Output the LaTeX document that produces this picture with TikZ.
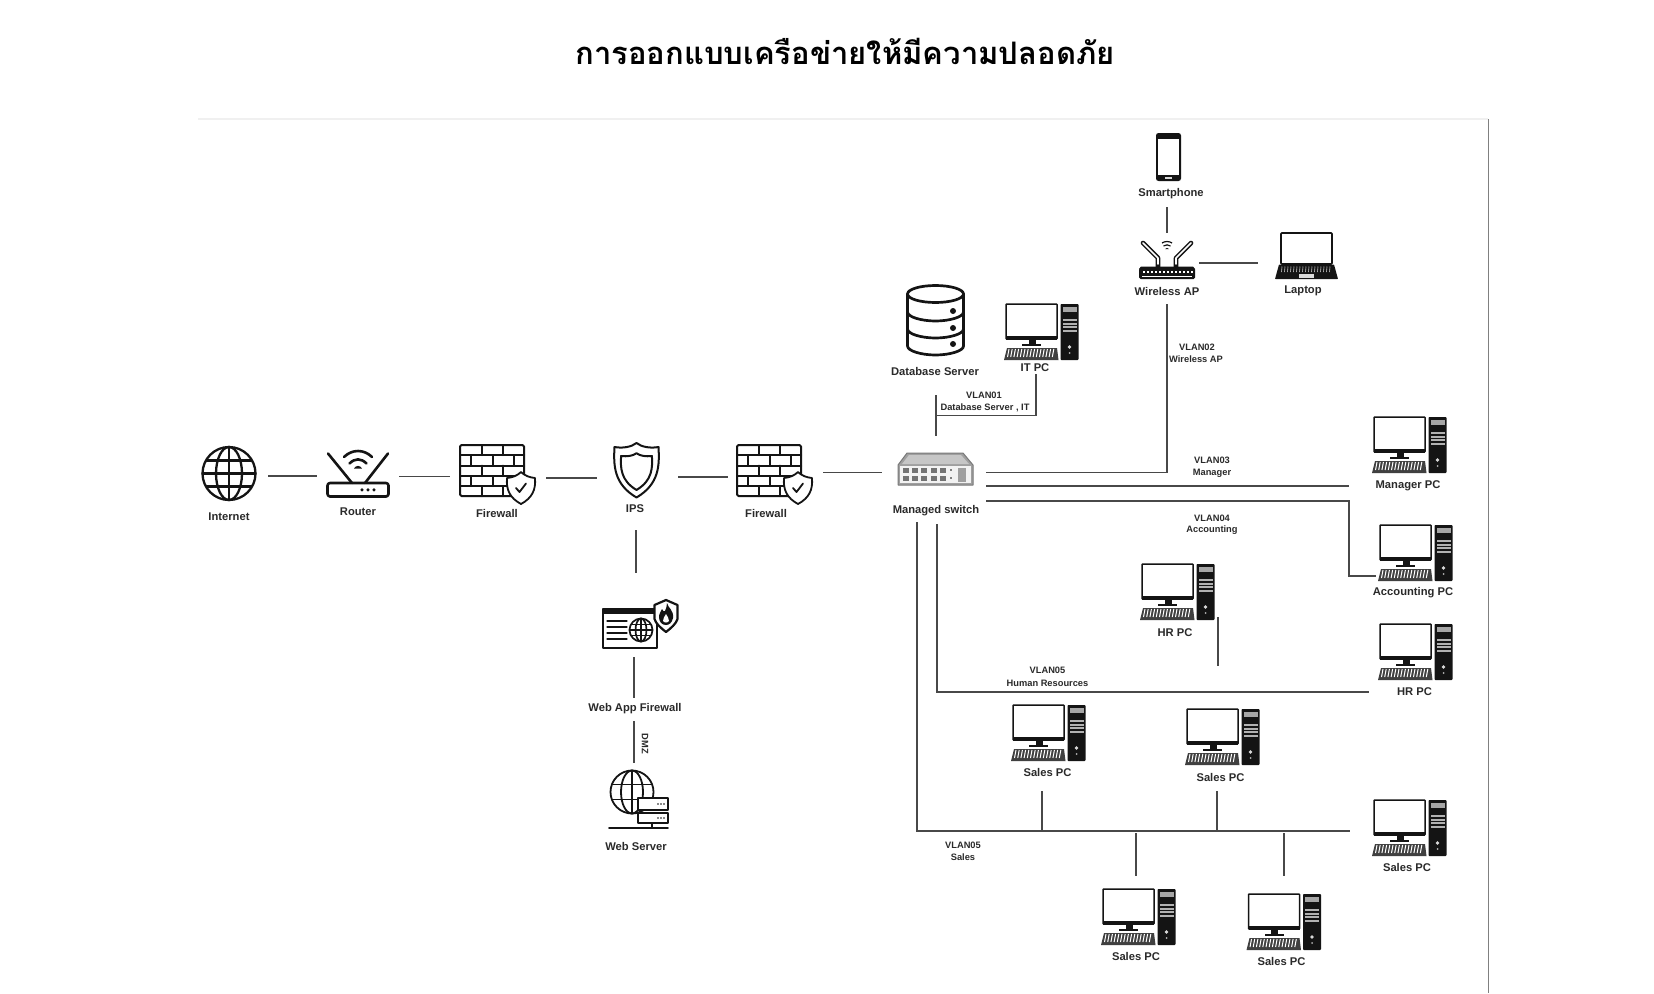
\documentclass[tikz,border=0pt]{standalone}
\usepackage{fontspec}
\setmainfont{Liberation Sans}
\newfontfamily\thaifont[Script=Thai]{Loma}
\usetikzlibrary{calc}
\definecolor{ink}{HTML}{141414}
\definecolor{wire}{HTML}{484848}
\definecolor{labelc}{HTML}{2A2A2A}
\tikzset{
  lbl/.style={font=\bfseries\fontsize{11.2}{13}\selectfont,text=labelc,inner sep=0pt},
  vlbl/.style={font=\bfseries\fontsize{9.3}{10}\selectfont,text=labelc,inner sep=0pt},
  wirel/.style={draw=wire,line width=1.15pt},
  ic/.style={draw=ink,line width=2pt,line join=round,line cap=round},
  ict/.style={draw=ink,line width=1.2pt,line join=round,line cap=round},
  pcicon/.pic={
    % monitor
    \draw[ink,line width=1.5pt,rounded corners=.6pt] (0,0) rectangle (51,35);
    \fill[ink] (0,31.5) rectangle (51,35.5);
    \fill[ink] (22.5,35) rectangle (29.5,40);
    \fill[ink] (16,39.5) rectangle (35,42);
    % keyboard
    \fill[black!75] (1,44) -- (51,44) -- (52.5,56) -- (-2,56) -- cycle;
    \foreach \k in {0,...,14}{\draw[white,line width=1pt] ({3+\k*3.2},45) -- ({1.5+\k*3.2},53);}
    % tower
    \fill[ink,rounded corners=.8pt] (54.5,0) rectangle (72.5,56);
    \fill[gray!70] (56.5,3) rectangle (70.5,8);
    \fill[gray!60] (56.5,15) rectangle (70.5,17);
    \fill[gray!60] (56.5,18.5) rectangle (70.5,20.5);
    \fill[gray!60] (56.5,22) rectangle (70.5,24);
    \fill[gray!60] (56.5,25.5) rectangle (70.5,27.5);
    \fill[white!85!black] (63.5,43) circle (1.8);
    \fill[white!70!black] (63.5,49) circle (1);
  },
  globeicon/.pic={
    \draw[ic,line width=2.3pt] (0,0) circle (26.5);
    \draw[ic,line width=2.3pt] (0,0) ellipse (13 and 26.5);
    \draw[ic,line width=2.3pt] (0,-26.5) -- (0,26.5);
    \draw[ic,line width=2.3pt] (-26.5,0) -- (26.5,0);
    \draw[ic,line width=2.3pt] (-22.5,-13) -- (22.5,-13);
    \draw[ic,line width=2.3pt] (-22.5,13) -- (22.5,13);
  },
  routericon/.pic={
    \draw[ic,line width=2.6pt,rounded corners=2.5pt] (-30.5,7) rectangle (30.5,20.5);
    \draw[ic,line width=2.6pt] (-6,7) -- (-30,-22.5);
    \draw[ic,line width=2.6pt] (7,7) -- (30,-22.5);
    \draw[ic,line width=2.6pt] (-14,-19) .. controls (-6,-27) and (6,-27) .. (14,-19);
    \draw[ic,line width=2.6pt] (-8.5,-12.5) .. controls (-3,-18) and (3,-18) .. (8.5,-12.5);
    \fill[ink] (-4,-7.5) .. controls (-2,-11) and (2,-11) .. (4,-7.5) -- cycle;
    \foreach \d in {4,10,16}{\fill[ink] (\d,13.8) circle (1.7);}
  },
  shieldsmall/.pic={
    \draw[ic,fill=white,line width=1.8pt] (0,-16) .. controls (4,-12) and (9,-10.5) .. (14,-10)
      .. controls (15,2) and (11,10) .. (0,16)
      .. controls (-11,10) and (-15,2) .. (-14,-10)
      .. controls (-9,-10.5) and (-4,-12) .. (0,-16) -- cycle;
    \draw[ic,line width=1.8pt] (-5,0) -- (-1.5,4) -- (5,-4.5);
  },
  wallicon/.pic={
    \draw[ic,rounded corners=1.5pt] (0,0) rectangle (64,51);
    \foreach \y in {10,20.5,31,41}{\draw[ic] (0,\y) -- (64,\y);}
    \foreach \x in {22,43}{
      \draw[ic] (\x,0) -- (\x,10);
      \draw[ic] (\x,20.5) -- (\x,31);
      \draw[ic] (\x,41) -- (\x,51);
    }
    \foreach \x in {11,33,54}{
      \draw[ic] (\x,10) -- (\x,20.5);
      \draw[ic] (\x,31) -- (\x,41);
    }
    \pic at (61,43) {shieldsmall};
  },
  ipsicon/.pic={
    \draw[ic] (0,-27) .. controls (5,-23) and (14,-21.5) .. (22,-23)
      .. controls (23,-5) and (23,14) .. (0,27.5)
      .. controls (-23,14) and (-23,-5) .. (-22,-23)
      .. controls (-14,-21.5) and (-5,-23) .. (0,-27) -- cycle;
    \begin{scope}[scale=.7,yshift=-1pt]
    \draw[ic] (0,-25) .. controls (5,-21) and (14,-20) .. (22,-21)
      .. controls (23,-5) and (23,14) .. (0,27.5)
      .. controls (-23,14) and (-23,-5) .. (-22,-21)
      .. controls (-14,-20) and (-5,-21) .. (0,-25) -- cycle;
    \end{scope}
  },
  switchicon/.pic={
    \fill[gray!75,draw=gray!95!black,line width=1pt,line join=round] (9,0) -- (65,0) -- (75,12) -- (75,32) -- (0,32) -- (0,12) -- cycle;
    \fill[gray!45] (11,2) -- (63,2) -- (71,11) -- (4,11) -- cycle;
    \fill[white!90!gray] (2,13) rectangle (73,30);
    \foreach \x in {0,1,2,3,4}{
      \fill[gray!90!black] ({5+\x*9.2},15) rectangle ({11+\x*9.2},20);
      \fill[gray!90!black] ({5+\x*9.2},23) rectangle ({11+\x*9.2},28);
    }
    \fill[gray!75] (60,14.5) rectangle (68,29);
    \fill[gray] (52,16) rectangle (53.5,18);
    \fill[gray] (52,24) rectangle (53.5,26);
  },
  apicon/.pic={
    \fill[ink,rounded corners=1.5pt] (-28,5) rectangle (28,16);
    \fill[ink] (-26,3.5) -- (26,3.5) -- (28,6) -- (-28,6) -- cycle;
    \foreach \x in {-24,-20,...,24}{\fill[white] (\x,8) rectangle ({\x+1.8},10);}
    \fill[white] (-25,12.5) rectangle (25,13.5);
    \foreach \s in {-1,1}{
      \draw[ink,line width=4.6pt,line cap=round,line join=round] ({\s*9},4) -- ({\s*9},-5) -- ({\s*24},-20);
      \draw[white,line width=1.6pt,line cap=round,line join=round] ({\s*9},1) -- ({\s*9},-5) -- ({\s*24},-20);
    }
    \draw[ink,line width=1.2pt] (-5,-20) .. controls (-2,-22) and (2,-22) .. (5,-20);
    \draw[ink,line width=1.2pt] (-3.5,-17) .. controls (-1.5,-18.5) and (1.5,-18.5) .. (3.5,-17);
    \fill[ink] (-1.8,-14) .. controls (-1,-15.5) and (1,-15.5) .. (1.8,-14) -- cycle;
  },
  phoneicon/.pic={
    \fill[ink,rounded corners=2.5pt] (0,0) rectangle (25,48);
    \fill[white] (1.6,5.5) rectangle (23.4,41.5);
    \fill[white!70!gray] (9,44) rectangle (16,45.5);
  },
  laptopicon/.pic={
    \draw[ic,line width=1.6pt,rounded corners=.8pt] (0,0) rectangle (51,31);
    \fill[ink,rounded corners=.6pt] (-2,31.5) -- (53,31.5) -- (57,46) -- (-6,46) -- cycle;
    \foreach \k in {0,...,16}{\draw[white!80!black,line width=.6pt] ({1+\k*3},33.5) -- ({.5+\k*3},39);}
    \fill[white!85!black] (18,41) rectangle (33,44.5);
  },
  dbicon/.pic={
    \begin{scope}[ic,line width=2.7pt]
    \draw (-28,-26) -- (-28,26) .. controls (-28,31) and (-14,35) .. (0,35)
      .. controls (14,35) and (28,31) .. (28,26) -- (28,-26);
    \draw (0,-26) ellipse (28 and 8.5);
    \draw (-28,-8) .. controls (-28,-3) and (-14,1) .. (0,1) .. controls (14,1) and (28,-3) .. (28,-8);
    \draw (-28,9) .. controls (-28,14) and (-14,18) .. (0,18) .. controls (14,18) and (28,14) .. (28,9);
    \end{scope}
    \foreach \y in {-9,8,24}{\fill[ink] (17.5,\y) circle (3);}
  },
  wafglobe/.pic={
    \draw[ict,line width=1.7pt] (0,0) circle (11.5);
    \draw[ict,line width=1.7pt] (0,0) ellipse (5.5 and 11.5);
    \draw[ict,line width=1.7pt] (0,-11.5) -- (0,11.5);
    \draw[ict,line width=1.7pt] (-11.5,0) -- (11.5,0);
    \draw[ict,line width=1.7pt] (-10,-5.5) -- (10,-5.5);
    \draw[ict,line width=1.7pt] (-10,5.5) -- (10,5.5);
  },
  wafshield/.pic={
    \draw[ic,fill=white,line width=2.2pt] (0,-16) -- (11.5,-11) -- (11.5,3) .. controls (10,8) and (5,12) .. (0,16)
      .. controls (-5,12) and (-10,8) .. (-11.5,3) -- (-11.5,-11) -- cycle;
    \fill[ink] (1,-13) .. controls (2,-8) and (8,-6) .. (7,2) .. controls (6,7) and (3,9) .. (0,9)
      .. controls (-4,9) and (-7,6) .. (-7,1) .. controls (-7,-3) and (-5,-4) .. (-4,-7)
      .. controls (-3,-5) and (-2,-4) .. (-1,-5) .. controls (0,-7) and (1,-10) .. (1,-13) -- cycle;
    \fill[white] (0,-2) .. controls (1,1) and (3.5,2) .. (3,5) .. controls (2,7) and (-2,7) .. (-3,5)
      .. controls (-3.5,2) and (-1,1) .. (0,-2) -- cycle;
  },
  wafwin/.pic={
    \draw[ic] (0,0) rectangle (54,39);
    \fill[ink] (0,0) rectangle (54,5);
    \foreach \y in {12,18,24,30}{\draw[ict] (4,\y) -- (24,\y);}
    \pic at (38,21) {wafglobe};
    \pic at (63,7) {wafshield};
  },
  webicon/.pic={
    \draw[ic,line width=1.8pt] (0,0) circle (21.5);
    \draw[ic,line width=1.8pt] (0,0) ellipse (11 and 21.5);
    \draw[ic,line width=1.8pt] (-20,-7.5) -- (20,-7.5);
    \draw[ic,line width=1.8pt] (-20,7.5) -- (20,7.5);
    \draw[ic,line width=1.8pt] (0,-21.5) -- (0,21.5);
    \draw[ic,fill=white,line width=1.8pt] (6,6) rectangle (36,18);
    \draw[ic,fill=white,line width=1.8pt] (6,21) rectangle (36,31);
    \foreach \yy in {12,26}{\foreach \x in {26,29,32}{\fill[ink] (\x,\yy) circle (.8);}}
    \draw[ic,line width=1.8pt] (-23,36) -- (36,36);
    \draw[ic,line width=1.8pt] (20,31) -- (20,36);
  },
}
\begin{document}
\begin{tikzpicture}[x=1pt,y=-1pt]
\useasboundingbox (0,0) rectangle (1654,993);
\fill[white] (0,0) rectangle (1654,993);

% title
\node[font=\thaifont\bfseries\fontsize{31}{37}\selectfont,text=black,inner sep=0pt] (title) at (845,51) {การออกแบบเครือข่ายให้มีความปลอดภัย};

% frame
\coordinate (frameA) at (198,119);
\coordinate (frameB) at (1488,119);
\coordinate (frameC) at (1488,993);
\draw[black!6,line width=1.2pt] (frameA) -- (frameB);
\draw[black!50,line width=1pt] (frameB) -- (frameC);

% icons
\pic at (229,473.5) {globeicon};
\pic at (358,476) {routericon};
\pic at (460,445) {wallicon};
\pic at (636.5,470) {ipsicon};
\pic at (737,445) {wallicon};
\pic at (898,453) {switchicon};
\pic at (1167,263) {apicon};
\pic at (1156,133) {phoneicon};
\pic at (1281,233) {laptopicon};
\pic at (935.5,320) {dbicon};
\pic at (603,609) {wafwin};
\pic at (632,792) {webicon};
\pic at (1006,304) {pcicon};
\pic at (1374,417) {pcicon};
\pic at (1380,525) {pcicon};
\pic at (1380,624) {pcicon};
\pic at (1142,564) {pcicon};
\pic at (1013,705) {pcicon};
\pic at (1187,709) {pcicon};
\pic at (1374,800) {pcicon};
\pic at (1103,889) {pcicon};
\pic at (1248.5,894) {pcicon};

% labels
\node[lbl] (internet) at (229,517) {Internet};
\node[lbl] (router) at (358,512) {Router};
\node[lbl] (fw1) at (497,513) {Firewall};
\node[lbl] (ips) at (635,509) {IPS};
\node[lbl] (fw2) at (766,513) {Firewall};
\node[lbl] (switch) at (936,510.5) {Managed switch};
\node[lbl] (waf) at (635,709) {Web App Firewall};
\node[lbl] (web) at (636,846) {Web Server};
\node[lbl] (db) at (935,371) {Database Server};
\node[lbl] (itpc) at (1035,368) {IT PC};
\node[lbl] (phone) at (1171,194) {Smartphone};
\node[lbl] (ap) at (1167,291) {Wireless AP};
\node[lbl] (laptop) at (1303,291) {Laptop};
\node[lbl] (mgr) at (1408,486) {Manager PC};
\node[lbl] (acc) at (1413,593) {Accounting PC};
\node[lbl] (hr) at (1414.5,692) {HR PC};
\node[lbl] (hrm) at (1175,633) {HR PC};
\node[lbl] (s1) at (1047.5,772) {Sales PC};
\node[lbl] (s2) at (1220.5,777.5) {Sales PC};
\node[lbl] (s3) at (1407,867) {Sales PC};
\node[lbl] (s4) at (1136,956) {Sales PC};
\node[lbl] (s5) at (1281.5,961) {Sales PC};

\node[vlbl] (v1a) at (984,395) {VLAN01};
\node[vlbl] (v1b) at (985,407.5) {Database Server , IT};
\node[vlbl] (v2a) at (1197,347.5) {VLAN02};
\node[vlbl] (v2b) at (1196,359) {Wireless AP};
\node[vlbl] (v3a) at (1212,460) {VLAN03};
\node[vlbl] (v3b) at (1212,473) {Manager};
\node[vlbl] (v4a) at (1212,518) {VLAN04};
\node[vlbl] (v4b) at (1212,530) {Accounting};
\node[vlbl] (v5a) at (1047.5,670) {VLAN05};
\node[vlbl] (v5b) at (1047.5,683) {Human Resources};
\node[vlbl] (v6a) at (963,845) {VLAN05};
\node[vlbl] (v6b) at (963,857) {Sales};
\node[vlbl,rotate=-90] (dmz) at (645,744) {DMZ};

% connector ends
\foreach \n/\x/\y in {
 a1/268/476, a2/317/476, b1/399/476.5, b2/450/476.5, c1/546/478, c2/597/478,
 d1/678/477, d2/728/477, e1/823/472.5, e2/882/472.5,
 f1/636/530, f2/636/573, g1/634/657, g2/634/698, h1/634/721, h2/634/763,
 i1/1167/207, i2/1167/233, j1/1199/263, j2/1258/263,
 k1/1167/304, k2/986/472.7, l1/986/486, l2/1349/486,
 m1/986/501, m2/1349/501, m3/1349/576, m4/1376/576,
 n1/936/395, n2/936/436, o1/936/415.5, o2/1036/374,
 p1/937/524, p2/1369/692, q1/1218/617, q2/1218/666,
 r1/917/522, r2/1350/831,
 t1/1042/791, t2/1042/831, u1/1217/791, u2/1217/831,
 w1/1136/833, w2/1136/876, y1/1284/833, y2/1284/876}{
  \coordinate (\n) at (\x,\y);
}

% connectors
\draw[wirel] (a1) -- (a2);
\draw[wirel] (b1) -- (b2);
\draw[wirel] (c1) -- (c2);
\draw[wirel] (d1) -- (d2);
\draw[wirel] (e1) -- (e2);
\draw[wirel] (f1) -- (f2);
\draw[wirel] (g1) -- (g2);
\draw[wirel] (h1) -- (h2);
\draw[wirel] (i1) -- (i2);
\draw[wirel] (j1) -- (j2);
\draw[wirel] (k1) |- (k2);
\draw[wirel] (l1) -- (l2);
\draw[wirel] (m1) -- (m2) -- (m3) -- (m4);
\draw[wirel] (n1) -- (n2);
\draw[wirel] (o1) -| (o2);
\draw[wirel] (p1) |- (p2);
\draw[wirel] (q1) -- (q2);
\draw[wirel] (r1) |- (r2);
\draw[wirel] (t1) -- (t2);
\draw[wirel] (u1) -- (u2);
\draw[wirel] (w1) -- (w2);
\draw[wirel] (y1) -- (y2);
\end{tikzpicture}
\end{document}
